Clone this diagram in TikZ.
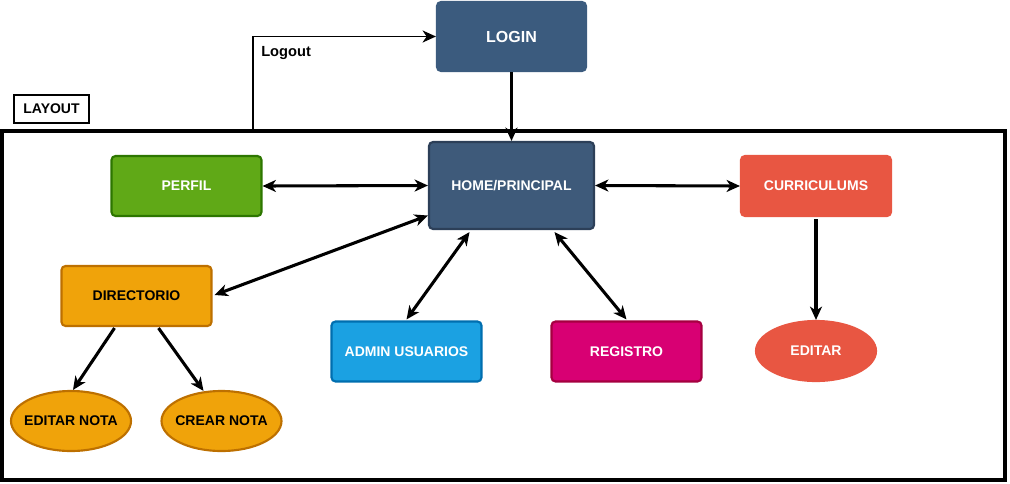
\documentclass[tikz,border=0pt]{standalone}
\usepackage{fontspec}
\setmainfont{Liberation Sans}
\usetikzlibrary{arrows.meta,shapes.geometric,calc}
\definecolor{loginfill}{HTML}{3B5B7E}
\definecolor{homefill}{HTML}{3E5A7A}
\definecolor{homedraw}{HTML}{2C3F58}
\definecolor{perfilfill}{HTML}{60A917}
\definecolor{perfildraw}{HTML}{2D7600}
\definecolor{currfill}{HTML}{E85642}
\definecolor{dirfill}{HTML}{F0A30A}
\definecolor{dirdraw}{HTML}{BD7000}
\definecolor{adminfill}{HTML}{1BA1E2}
\definecolor{admindraw}{HTML}{006EAF}
\definecolor{regfill}{HTML}{D80073}
\definecolor{regdraw}{HTML}{A50040}
\tikzset{
  box/.style={rectangle, rounded corners=3pt, minimum width=150*0.75pt, minimum height=60*0.75pt,
    inner sep=0pt, font=\fontsize{10.5}{12}\selectfont\bfseries, line width=1.6pt},
  oval/.style={ellipse, minimum width=120*0.75pt, minimum height=60*0.75pt,
    inner sep=0pt, font=\fontsize{10.5}{12}\selectfont\bfseries, line width=1.6pt},
  tip/.tip={Stealth[length=10pt,width=9pt,inset=3pt]},
  conn/.style={line width=2.3pt, -tip},
  bconn/.style={line width=2.3pt, tip-tip},
}
\begin{document}
\begin{tikzpicture}[x=0.75pt,y=-0.75pt]
\useasboundingbox (0,0) rectangle (1010,483);
% layout frame
\draw[line width=2.3pt] (2,131) rectangle (1005,480);
\node[draw, line width=2pt, minimum width=75*0.75pt, minimum height=28*0.75pt, inner sep=0pt,
  font=\fontsize{10.5}{12}\selectfont\bfseries] (layout) at (51.5,109) {LAYOUT};
% nodes
\node[box, fill=loginfill, draw=loginfill, text=white, minimum width=149*0.75pt, minimum height=69*0.75pt,
  font=\fontsize{12}{14}\selectfont\bfseries] (login) at (511.5,36.5) {LOGIN};
\node[box, fill=homefill, draw=homedraw, text=white, minimum width=165*0.75pt, minimum height=87*0.75pt] (home) at (511.5,185.5) {HOME/PRINCIPAL};
\node[box, fill=perfilfill, draw=perfildraw, text=white] (perfil) at (186.5,186) {PERFIL};
\node[box, fill=currfill, draw=currfill, text=white] (curr) at (816,186) {CURRICULUMS};
\node[box, fill=dirfill, draw=dirdraw, text=black] (dir) at (136.5,296) {DIRECTORIO};
\node[box, fill=adminfill, draw=admindraw, text=white] (admin) at (406.5,351.5) {ADMIN USUARIOS};
\node[box, fill=regfill, draw=regdraw, text=white] (reg) at (626.5,351.5) {REGISTRO};
\node[oval, fill=currfill, draw=currfill, text=white] (editar) at (816,351) {\makebox[0pt]{EDITAR}};
\node[oval, fill=dirfill, draw=dirdraw, text=black] (enota) at (71,421) {\makebox[0pt]{EDITAR NOTA}};
\node[oval, fill=dirfill, draw=dirdraw, text=black] (cnota) at (221.5,421) {\makebox[0pt]{CREAR NOTA}};
% logout
\coordinate (lo) at (253,130);
\draw[line width=1.3pt, -tip] (lo) |- (login.west);
\node[anchor=west, inner sep=0pt, font=\fontsize{11}{12}\selectfont\bfseries] (logout) at (261,53) {Logout};
% connectors
\draw[conn] (login.south) -- (home.north);
\draw[bconn] (perfil.east) -- (home.west);
\draw[bconn] (home.east) -- (curr.west);
\draw[bconn] ($(home.west)+(0,30)$) -- ($(dir.east)+(2,-1)$);
\draw[bconn] ($(home.south)+(-42,2)$) -- ($(admin.north)+(0,-1)$);
\draw[bconn] ($(home.south)+(43,2)$) -- ($(reg.north)+(0,-1)$);
\draw[conn] ($(curr.south)+(0,2)$) -- (editar.north);
\draw[conn] ($(dir.south)+(-22,1)$) -- ($(enota.north)+(2,0)$);
\draw[conn] ($(dir.south)+(22,1)$) -- ($(cnota.north)+(-18,1)$);
\end{tikzpicture}
\end{document}
